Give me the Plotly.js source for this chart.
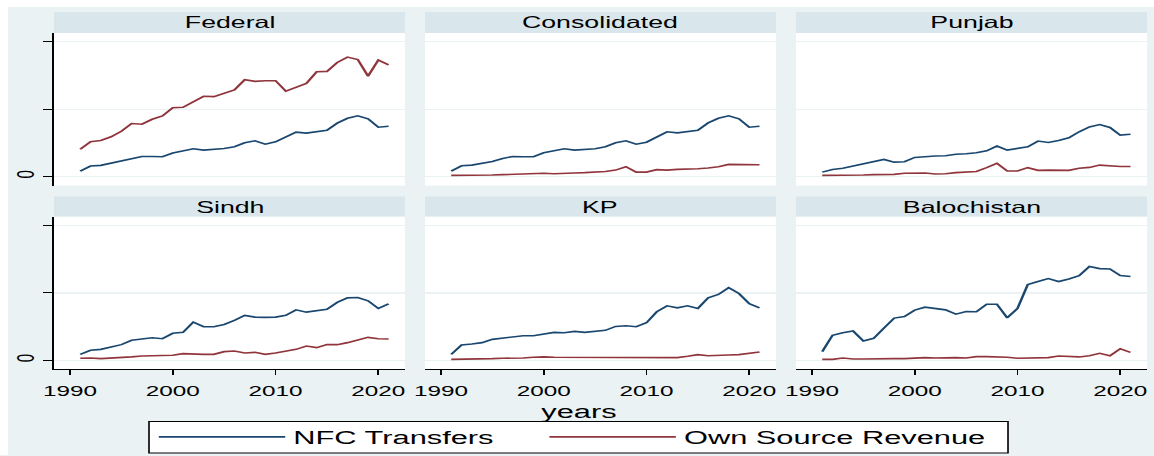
<!DOCTYPE html>
<html>
<head>
<meta charset="utf-8">
<script src="https://cdn.plot.ly/plotly-3.0.1.min.js"></script>
<style>
html, body { margin: 0; padding: 0; background: #ffffff; overflow: hidden; }
#chart { width: 712px; height: 456px; transform: scaleX(1.6208); transform-origin: 0 0; }
</style>
</head>
<body>
<div id="chart"></div>
<script>
// ---------------- DATA ----------------
const years = [1991, 1992, 1993, 1994, 1995, 1996, 1997, 1998, 1999, 2000,
               2001, 2002, 2003, 2004, 2005, 2006, 2007, 2008, 2009, 2010,
               2011, 2012, 2013, 2014, 2015, 2016, 2017, 2018, 2019, 2020, 2021];

const panelNames = ['Federal', 'Consolidated', 'Punjab', 'Sindh', 'KP', 'Balochistan'];
const seriesNames = ['NFC Transfers', 'Own Source Revenue'];

const federalNFC = [0.42, 0.79, 0.84, 1.01, 1.13, 1.33, 1.50, 1.50, 1.48, 1.75,
                    1.90, 2.07, 1.97, 2.02, 2.09, 2.22, 2.51, 2.66, 2.41, 2.59,
                    2.93, 3.30, 3.23, 3.35, 3.45, 3.97, 4.33, 4.51, 4.29, 3.67, 3.74];
const federalOSR = [2.04, 2.59, 2.68, 2.96, 3.37, 3.94, 3.89, 4.26, 4.51, 5.12,
                    5.15, 5.54, 5.96, 5.94, 6.18, 6.43, 7.19, 7.07, 7.12, 7.12,
                    6.35, 6.63, 6.92, 7.78, 7.81, 8.47, 8.87, 8.69, 7.46, 8.65, 8.30];

const consolidatedNFC = [0.42, 0.81, 0.86, 1.01, 1.13, 1.35, 1.50, 1.48, 1.48, 1.77,
                         1.90, 2.07, 1.97, 2.00, 2.07, 2.22, 2.51, 2.66, 2.41, 2.56,
                         2.93, 3.33, 3.25, 3.35, 3.45, 3.99, 4.33, 4.51, 4.29, 3.67, 3.74];
const consolidatedOSR = [0.10, 0.10, 0.07, 0.10, 0.12, 0.15, 0.17, 0.22, 0.25, 0.25,
                         0.22, 0.22, 0.27, 0.30, 0.34, 0.39, 0.49, 0.74, 0.34, 0.34,
                         0.52, 0.49, 0.54, 0.54, 0.59, 0.64, 0.74, 0.91, 0.89, 0.89, 0.89];

const punjabNFC = [0.34, 0.54, 0.62, 0.79, 0.94, 1.16, 1.28, 1.08, 1.11, 1.43,
                   1.50, 1.53, 1.55, 1.67, 1.70, 1.77, 1.92, 2.27, 1.97, 2.07,
                   2.22, 2.64, 2.54, 2.68, 2.88, 3.33, 3.69, 3.87, 3.65, 3.08, 3.15];
const punjabOSR = [0.10, 0.10, 0.07, 0.10, 0.12, 0.15, 0.17, 0.17, 0.25, 0.27,
                   0.27, 0.20, 0.22, 0.30, 0.37, 0.39, 0.67, 0.99, 0.42, 0.42,
                   0.67, 0.47, 0.49, 0.49, 0.47, 0.62, 0.69, 0.86, 0.79, 0.76, 0.76];

const sindhNFC = [0.44, 0.74, 0.81, 0.99, 1.16, 1.48, 1.55, 1.67, 1.60, 2.00,
                  2.07, 2.83, 2.49, 2.49, 2.66, 2.96, 3.33, 3.20, 3.18, 3.20,
                  3.33, 3.74, 3.57, 3.69, 3.79, 4.29, 4.63, 4.66, 4.41, 3.84, 4.19];
const sindhOSR = [0.15, 0.17, 0.12, 0.15, 0.20, 0.25, 0.32, 0.34, 0.39, 0.37,
                  0.49, 0.44, 0.44, 0.44, 0.64, 0.69, 0.54, 0.59, 0.44, 0.54,
                  0.67, 0.81, 1.06, 0.94, 1.16, 1.16, 1.31, 1.53, 1.70, 1.60, 1.58];

const kpNFC = [0.44, 1.13, 1.21, 1.31, 1.55, 1.63, 1.72, 1.82, 1.82, 1.95,
               2.07, 2.04, 2.14, 2.07, 2.17, 2.22, 2.51, 2.56, 2.49, 2.78,
               3.60, 4.04, 3.89, 4.04, 3.84, 4.63, 4.88, 5.39, 4.95, 4.19, 3.89];
const kpOSR = [0.07, 0.07, 0.10, 0.10, 0.12, 0.15, 0.15, 0.17, 0.22, 0.25,
               0.22, 0.22, 0.22, 0.20, 0.20, 0.20, 0.20, 0.20, 0.17, 0.17,
               0.17, 0.17, 0.20, 0.30, 0.42, 0.34, 0.39, 0.39, 0.42, 0.54, 0.62];

const balochistanNFC = [0.64, 1.85, 2.04, 2.17, 1.43, 1.63, 2.39, 3.13, 3.25, 3.72,
                        3.94, 3.84, 3.74, 3.42, 3.62, 3.60, 4.16, 4.16, 3.15, 3.84,
                        5.62, 5.84, 6.06, 5.84, 6.03, 6.28, 6.95, 6.80, 6.77, 6.28, 6.21];
const balochistanOSR = [0.07, 0.07, 0.17, 0.10, 0.10, 0.12, 0.12, 0.12, 0.12, 0.15,
                        0.20, 0.17, 0.20, 0.20, 0.17, 0.27, 0.27, 0.27, 0.22, 0.15,
                        0.17, 0.20, 0.20, 0.32, 0.30, 0.25, 0.34, 0.52, 0.34, 0.86, 0.59];

const nfcSeries = [federalNFC, consolidatedNFC, punjabNFC, sindhNFC, kpNFC, balochistanNFC];
const osrSeries = [federalOSR, consolidatedOSR, punjabOSR, sindhOSR, kpOSR, balochistanOSR];

const xTickVals = [1990, 2000, 2010, 2020];
const xTickText = ['1990', '2000', '2010', '2020'];
const yTickVals = [0, 5, 10];
const yTickText = ['0', '', ''];
const xTitle = 'years';

// ---------------- STYLE / LAYOUT ----------------
const FONT = 'Liberation Sans, Arial, Helvetica, sans-serif';
const NAVY = '#1A476F';
const MAROON = '#90353B';
const BG = '#EAF2F3';
const STRIP = '#D9E6EB';
const GRID = '#EAF2F3';

const colDomains = [[0.0468, 0.3510], [0.3683, 0.6724], [0.6898, 0.9939]];
const rowDomains = [[0.5921, 0.9276], [0.1886, 0.5241]];
const stripRows = [[0.9276, 0.9737], [0.5241, 0.5680]];

const traces = [];
const layout = {
  width: 712,
  height: 456,
  margin: { l: 0, r: 0, t: 0, b: 0, pad: 0 },
  paper_bgcolor: BG,
  plot_bgcolor: '#ffffff',
  font: { family: FONT, color: '#000000' },
  showlegend: true,
  legend: {
    orientation: 'h',
    x: 0.1306, xanchor: 'left',
    y: 0.0395, yanchor: 'middle',
    bgcolor: 'rgba(0,0,0,0)',
    borderwidth: 0,
    itemwidth: 78,
    traceorder: 'normal',
    font: { family: FONT, size: 19, color: '#000000' }
  },
  shapes: [
    { type: 'rect', xref: 'paper', yref: 'paper', x0: 0, x1: 1, y0: 1 - 7 / 456, y1: 1,
      fillcolor: '#ffffff', line: { width: 0 }, layer: 'below' },
    { type: 'rect', xref: 'paper', yref: 'paper', x0: 0, x1: 8 / 1154, y0: 0, y1: 1,
      fillcolor: '#ffffff', line: { width: 0 }, layer: 'below' },
    // legend frame
    { type: 'rect', xref: 'paper', yref: 'paper',
      x0: 149 / 1154, x1: 1008 / 1154, y0: 1 - 454 / 456, y1: 1 - 422.5 / 456,
      fillcolor: '#ffffff', line: { color: '#000000', width: 1 }, layer: 'below' }
  ],
  annotations: []
};

for (let i = 0; i < 6; i++) {
  const row = Math.floor(i / 3);
  const col = i % 3;
  const sfx = i === 0 ? '' : String(i + 1);
  const xa = 'x' + sfx, ya = 'y' + sfx;

  const xaxis = {
    domain: colDomains[col],
    range: [1988.45, 2022.6],
    anchor: ya,
    showgrid: false,
    zeroline: false,
    fixedrange: true
  };
  if (row === 1) {
    Object.assign(xaxis, {
      showline: true, linecolor: '#000000', linewidth: 1.1,
      ticks: 'outside', ticklen: 4.5, tickwidth: 1.1, tickcolor: '#000000',
      ticklabelstandoff: 3,
      tickmode: 'array', tickvals: xTickVals, ticktext: xTickText,
      tickfont: { family: FONT, size: 15, color: '#000000' }
    });
  } else {
    Object.assign(xaxis, { showline: false, showticklabels: false, ticks: '' });
  }

  const yaxis = {
    domain: rowDomains[row],
    range: [-0.66, 10.66],
    anchor: xa,
    showgrid: true, gridcolor: GRID, gridwidth: 1.3,
    zeroline: false,
    tickmode: 'array', tickvals: yTickVals, ticktext: yTickText,
    fixedrange: true
  };
  if (col === 0) {
    Object.assign(yaxis, {
      showline: true, linecolor: '#000000', linewidth: 1,
      ticks: 'outside', ticklen: 5.5, tickwidth: 1.2, tickcolor: '#000000',
      tickangle: -90,
      ticklabelstandoff: 0,
      tickfont: { family: FONT, size: 15, color: '#000000' }
    });
  } else {
    Object.assign(yaxis, { showline: false, showticklabels: false, ticks: '' });
  }

  layout['xaxis' + sfx] = xaxis;
  layout['yaxis' + sfx] = yaxis;

  traces.push({
    type: 'scatter', mode: 'lines', x: years, y: nfcSeries[i],
    xaxis: xa, yaxis: ya, name: seriesNames[0], legendgroup: 'nfc',
    showlegend: i === 0, legendwidth: 148,
    line: { color: NAVY, width: 1.6 }, hoverinfo: 'skip'
  });
  traces.push({
    type: 'scatter', mode: 'lines', x: years, y: osrSeries[i],
    xaxis: xa, yaxis: ya, name: seriesNames[1], legendgroup: 'osr',
    showlegend: i === 0, legendwidth: 190,
    line: { color: MAROON, width: 1.6 }, hoverinfo: 'skip'
  });

  // strip header
  layout.shapes.push({
    type: 'rect', xref: 'paper', yref: 'paper',
    x0: colDomains[col][0], x1: colDomains[col][1],
    y0: stripRows[row][0], y1: stripRows[row][1],
    fillcolor: STRIP, line: { width: 0 }, layer: 'below'
  });
  layout.annotations.push({
    xref: 'paper', yref: 'paper',
    x: (colDomains[col][0] + colDomains[col][1]) / 2,
    y: (stripRows[row][0] + stripRows[row][1]) / 2,
    xanchor: 'center', yanchor: 'middle',
    text: panelNames[i], showarrow: false,
    font: { family: FONT, size: 16.5, color: '#000000' }
  });
}

layout.annotations.push({
  xref: 'paper', yref: 'paper', x: 0.5015, y: 0.0965,
  xanchor: 'center', yanchor: 'middle',
  text: xTitle, showarrow: false,
  font: { family: FONT, size: 19, color: '#000000' }
});

Plotly.newPlot('chart', traces, layout, { displayModeBar: false, staticPlot: true });
</script>
</body>
</html>
